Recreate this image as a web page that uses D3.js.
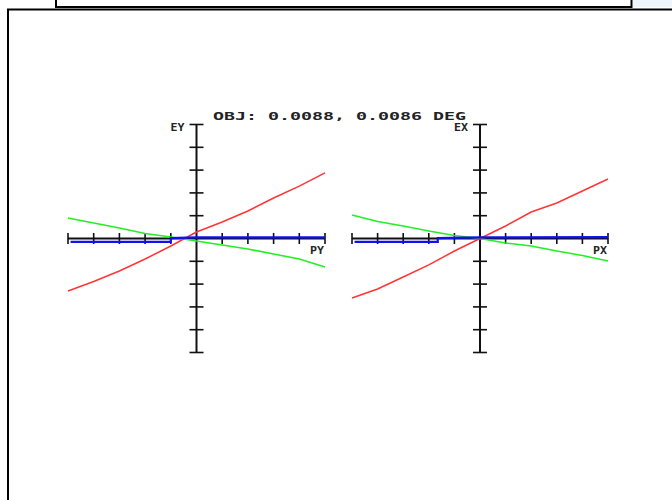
<!DOCTYPE html>
<html><head><meta charset="utf-8">
<script src="https://cdn.jsdelivr.net/npm/d3@7"></script>
<style>html,body{margin:0;padding:0;background:#fff;}svg{display:block;}</style>
</head><body><div id="chart"></div>
<script>
const title = "OBJ: 0.0088, 0.0086 DEG";
const pupil = [-1, -0.8, -0.6, -0.4, -0.2, 0, 0.2, 0.4, 0.6, 0.8, 1];
const tickValues = [-1, -0.8, -0.6, -0.4, -0.2, 0.2, 0.4, 0.6, 0.8, 1];
// left panel (EY vs PY)
const eyRed   = [-0.46, -0.377, -0.285, -0.18, -0.066, 0.057, 0.145, 0.241, 0.355, 0.46, 0.575];
const eyGreen = [0.18, 0.136, 0.092, 0.044, 0.013, -0.022, -0.057, -0.092, -0.136, -0.18, -0.25];
const eyBlueP = [-0.98, -0.2, -0.2, 0, 1];
const eyBlue  = [-0.03, -0.03, 0.004, 0.01, 0.01];
// right panel (EX vs PX)
const exRed   = [-0.522, -0.443, -0.338, -0.232, -0.11, 0, 0.11, 0.232, 0.311, 0.417, 0.522];
const exGreen = [0.206, 0.149, 0.11, 0.066, 0.026, 0, -0.039, -0.066, -0.11, -0.149, -0.197];
const exBlueP = [-0.98, -0.33, -0.33, 0, 1];
const exBlue  = [-0.03, -0.03, 0.004, 0.01, 0.012];

const W = 672, H = 500;
const svg = d3.select("#chart").append("svg").attr("width", W).attr("height", H);

// frames
svg.append("rect").attr("x", 633).attr("y", 0).attr("width", 39).attr("height", 7).attr("fill", "#eef5fc");
svg.append("path").attr("d", "M56,0 V7 H631.5 V0").attr("fill", "none").attr("stroke", "#000").attr("stroke-width", 2);
svg.append("path").attr("d", "M8,500 V9.5 H672").attr("fill", "none").attr("stroke", "#000").attr("stroke-width", 2);

const y = d3.scaleLinear().domain([-1, 1]).range([352.5, 124.5]);
const font = "'DejaVu Sans Mono', monospace";

function panel(x0, x1, xLabel, yLabel, red, green, blueP, blue) {
  const x = d3.scaleLinear().domain([-1, 1]).range([x0, x1]);
  const g = svg.append("g");
  const ax = "#111";
  // horizontal axis
  g.append("line").attr("x1", x(-1)).attr("x2", x(1)).attr("y1", y(0)).attr("y2", y(0))
    .attr("stroke", ax).attr("stroke-width", 2);
  g.selectAll(".xt").data(tickValues).join("line")
    .attr("x1", d => x(d)).attr("x2", d => x(d)).attr("y1", y(0) - 5.5).attr("y2", y(0) + 5.5)
    .attr("stroke", ax).attr("stroke-width", 1.6);
  // vertical axis
  g.append("line").attr("x1", x(0)).attr("x2", x(0)).attr("y1", y(1)).attr("y2", y(-1))
    .attr("stroke", ax).attr("stroke-width", 2);
  g.selectAll(".yt").data(tickValues).join("line")
    .attr("y1", d => y(d)).attr("y2", d => y(d)).attr("x1", x(0) - 7).attr("x2", x(0) + 7)
    .attr("stroke", ax).attr("stroke-width", 1.6);

  const line = d3.line().x(d => x(d[0])).y(d => y(d[1]));
  g.append("path").datum(pupil.map((p, i) => [p, green[i]])).attr("d", line)
    .attr("fill", "none").attr("stroke", "#22f022").attr("stroke-width", 1.6);
  g.append("path").datum(pupil.map((p, i) => [p, red[i]])).attr("d", line)
    .attr("fill", "none").attr("stroke", "#ff3535").attr("stroke-width", 1.5);
  g.append("path").datum(blueP.map((p, i) => [p, blue[i]])).attr("d", line)
    .attr("fill", "none").attr("stroke", "#1010ee").attr("stroke-width", 2.2);

  g.append("text").attr("x", x(1) - 15).attr("y", y(0) + 15.5)
    .attr("textLength", 14).attr("lengthAdjust", "spacingAndGlyphs")
    .attr("font-family", font).attr("font-weight", "bold").attr("font-size", 10.5).attr("fill", "#222")
    .text(xLabel);
  g.append("text").attr("x", x(0) - 26).attr("y", y(1) + 6.5)
    .attr("textLength", 14).attr("lengthAdjust", "spacingAndGlyphs")
    .attr("font-family", font).attr("font-weight", "bold").attr("font-size", 10.5).attr("fill", "#222")
    .text(yLabel);
}

panel(68, 325, "PY", "EY", eyRed, eyGreen, eyBlueP, eyBlue);
panel(352, 608, "PX", "EX", exRed, exGreen, exBlueP, exBlue);

svg.append("text").attr("x", 213).attr("y", 120).attr("textLength", 253).attr("lengthAdjust", "spacingAndGlyphs")
  .attr("font-family", font).attr("font-weight", "bold").attr("font-size", 10)
  .attr("fill", "#222").text(title);
</script></body></html>
